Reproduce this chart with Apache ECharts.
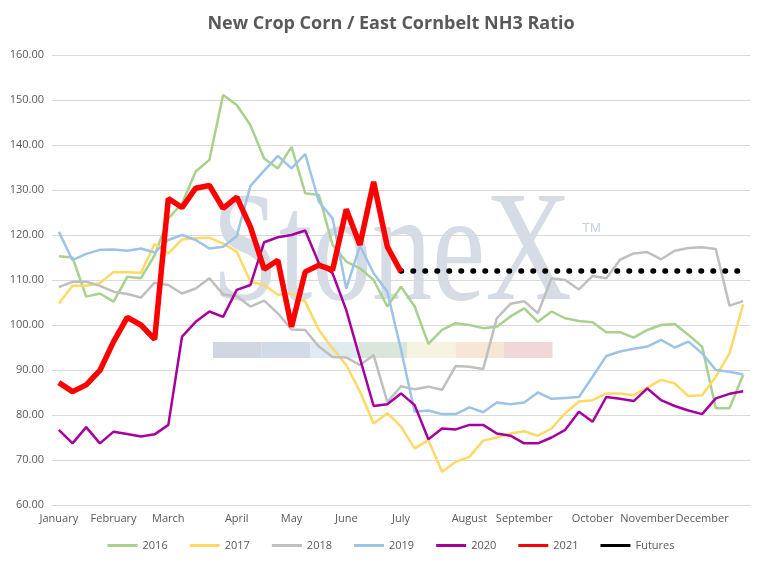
<!DOCTYPE html>
<html><head><meta charset="utf-8">
<script src="https://cdn.jsdelivr.net/npm/echarts@6/dist/echarts.min.js"></script>
<style>html,body{margin:0;padding:0;background:#fff}#c{width:782px;height:568px}</style>
</head><body><div id="c"></div>
<script>
const monthLabels = {0:'January',4:'February',8:'March',13:'April',17:'May',21:'June',25:'July',30:'August',34:'September',39:'October',43:'November',47:'December'};
const weeks = Array.from({length:51},(_,i)=>'W'+(i+1));
const s2016 = [115.3,115,106.3,107,105.2,110.7,110.4,115.5,123.7,127,134.1,136.7,151.1,148.9,144.4,137,134.8,139.6,129.3,128.9,117.8,114.1,112.6,110,104.1,108.5,104.1,95.8,98.9,100.4,100,99.3,99.6,101.9,103.7,100.7,103,101.5,100.9,100.6,98.4,98.4,97.2,98.9,100,100.2,97.8,95.2,81.5,81.5,88.9];
const s2017 = [104.8,108.7,108.7,109.3,111.8,111.7,111.6,118,115.9,119,119.3,119.4,118.1,116.3,109.6,108.9,106.7,107,105.2,98.9,94.8,91.1,85.2,78.1,80.4,77.4,72.6,74.4,67.4,69.6,70.7,74.3,75,75.9,76.4,75.4,77,80.4,83,83.3,84.8,84.8,84.4,86.1,87.8,87,84.2,84.4,88.5,93.7,104.6];
const s2018 = [108.4,109.6,109.6,108.7,107.4,106.9,106.1,109.4,108.9,107,108.1,110.4,106.8,106.4,104.1,105.4,102.6,99,98.9,95.2,92.9,92.8,91.1,93.3,82.9,86.4,85.7,86.3,85.6,90.9,90.7,90.2,101.5,104.7,105.3,102.6,110.4,110,107.9,110.9,110.4,114.5,115.9,116.2,114.6,116.5,117.1,117.3,116.9,104.3,105.3];
const s2019 = [120.7,114.4,115.8,116.7,116.8,116.5,117,116.1,118.9,120,118.9,117,117.4,119.8,130.9,134.3,137.6,134.8,138,127.4,123.7,108.1,117.6,111.5,107.4,94.5,80.7,81,80.2,80.2,81.7,80.6,82.8,82.4,82.8,85,83.6,83.8,84,88.5,93.1,94.1,94.7,95.2,96.7,95,96.3,93.7,90,89.6,89];
const s2020 = [76.7,73.7,77.3,73.7,76.3,75.8,75.2,75.7,77.8,97.4,100.7,103,101.8,107.8,108.9,118.4,119.5,120,121,113.7,111.5,103.3,92.6,82,82.4,84.8,82.2,74.6,77,76.8,77.8,77.8,75.9,75.4,73.7,73.7,75,76.7,80.7,78.5,84,83.6,83.1,85.9,83.3,82,81,80.2,83.7,84.7,85.3];
const s2021 = [87.2,85.2,86.7,89.9,96.3,101.7,100,96.8,128.1,126.1,130.4,131,125.9,128.4,121.8,112.4,114.4,99.6,111.8,113.3,112.2,125.7,117.8,131.8,117.4,111.8];
const futuresStart = 25, futuresValue = 112;
const futures = weeks.map((_,i)=> i>=futuresStart ? futuresValue : null);

const chart = echarts.init(document.getElementById('c'));
const FF = 'Open Sans, Noto Sans, sans-serif';
const mk = (name,data,color,width,extra) => Object.assign({name,type:'line',data,symbol:'none',smooth:false,
  lineStyle:{color,width},itemStyle:{color},z:3},extra||{});
const wmColors = ['#c9d0da','#c8d5e3','#dbe6f0','#d3e0d5','#f5f2dc','#f6e2cc','#efd0d2'];
const graphics = [{type:'text',x:212,y:180,scaleY:1.3,z:0,style:{text:'StoneX',font:'120px "Liberation Serif", serif',fill:'rgba(185,197,212,0.6)',textVerticalAlign:'top'}},
 {type:'text',left:582,top:222,z:0,style:{text:'TM',font:'13px sans-serif',fill:'rgba(185,197,212,0.8)'}}];
wmColors.forEach((c,k)=>graphics.push({type:'rect',z:0,shape:{x:213+k*48.5,y:342,width:48.5,height:16},style:{fill:c,opacity:0.85}}));
chart.setOption({
  animation:false,
  title:{text:'New Crop Corn / East Cornbelt NH3 Ratio',left:'center',top:10,textStyle:{fontFamily:FF,fontSize:18,fontWeight:'bold',color:'#595959'}},
  graphic:graphics,
  legend:{bottom:12,itemWidth:30,itemHeight:3,itemGap:22,textStyle:{fontFamily:FF,fontSize:11,color:'#595959'},
    data:['2016','2017','2018','2019','2020','2021','Futures'].map(n=>({name:n,icon:'rect'}))},
  grid:{left:52,right:32,top:55,bottom:63},
  xAxis:{type:'category',data:weeks,boundaryGap:true,
    axisLine:{lineStyle:{color:'#d9d9d9'}},axisTick:{show:false},
    axisLabel:{interval:0,fontFamily:FF,fontSize:11,color:'#595959',formatter:(v,i)=>monthLabels[i]||''}},
  yAxis:{type:'value',min:60,max:160,interval:10,
    axisLabel:{fontFamily:FF,fontSize:11,color:'#595959',formatter:v=>v.toFixed(2)},
    splitLine:{lineStyle:{color:'#d9d9d9'}},axisLine:{show:false},axisTick:{show:false}},
  series:[
    mk('2016',s2016,'#a9d18e',2.5),
    mk('2017',s2017,'#ffd966',2.5),
    mk('2018',s2018,'#bfbfbf',2.5),
    mk('2019',s2019,'#9dc3e6',2.5),
    mk('2020',s2020,'#a5009e',2.5),
    mk('2021',s2021,'#ff0000',5.5,{z:5}),
    mk('Futures',futures,'#000000',5,{lineStyle:{color:'#000',width:5.5,type:[0.5,11.5],cap:'round'},z:4})
  ]
});
</script></body></html>
